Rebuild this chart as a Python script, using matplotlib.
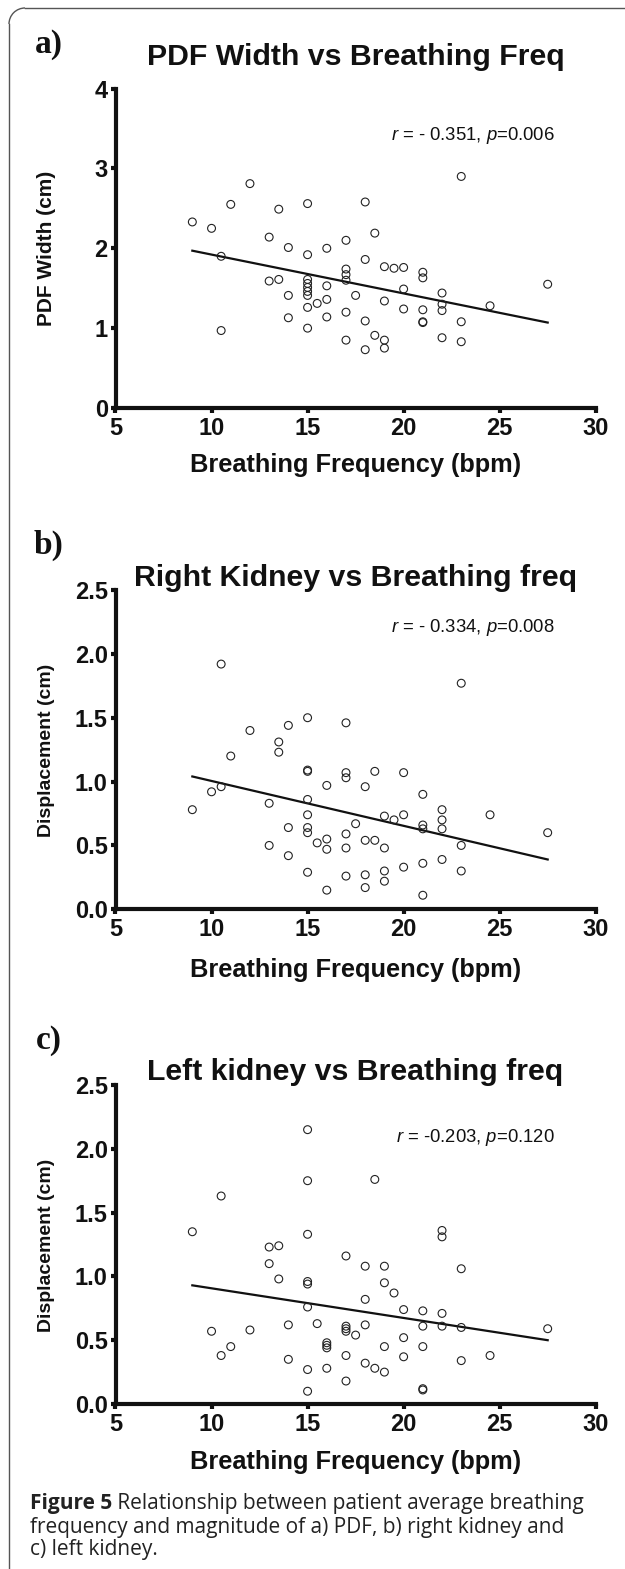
import matplotlib
matplotlib.use("Agg")
import matplotlib.pyplot as plt
from matplotlib.lines import Line2D
from matplotlib.patches import Arc

plt.rcParams['font.family'] = ['Liberation Sans', 'DejaVu Sans']
plt.rcParams['mathtext.fontset'] = 'custom'
plt.rcParams['mathtext.it'] = 'Liberation Sans:italic'
plt.rcParams['mathtext.rm'] = 'Liberation Sans'

# ---------------- data ----------------
xa = [9, 10, 10.5, 10.5, 11, 12, 13, 13, 13.5, 13.5, 14, 14, 14,
      15, 15, 15, 15, 15, 15, 15, 15, 15, 15.5, 16, 16, 16, 16,
      17, 17, 17, 17, 17, 17, 17.5, 18, 18, 18, 18, 18.5, 18.5,
      19, 19, 19, 19, 19.5, 20, 20, 20, 21, 21, 21, 21, 21,
      22, 22, 22, 22, 23, 23, 23, 24.5, 27.5]
ya = [2.33, 2.25, 1.90, 0.97, 2.55, 2.81, 2.14, 1.59, 2.49, 1.61, 2.01, 1.41, 1.13,
      2.56, 1.92, 1.61, 1.56, 1.51, 1.46, 1.41, 1.26, 1.00, 1.31, 2.00, 1.53, 1.36, 1.14,
      2.10, 1.74, 1.67, 1.60, 1.20, 0.85, 1.41, 2.58, 1.86, 1.09, 0.73, 2.19, 0.91,
      1.77, 1.34, 0.85, 0.75, 1.75, 1.76, 1.49, 1.24, 1.70, 1.63, 1.23, 1.08, 1.07,
      1.44, 1.30, 1.22, 0.88, 2.90, 1.08, 0.83, 1.28, 1.55]

xb = [9, 10, 10.5, 10.5, 11, 12, 13, 13, 13.5, 13.5, 14, 14, 14,
      15, 15, 15, 15, 15, 15, 15, 15, 15.5, 16, 16, 16, 16,
      17, 17, 17, 17, 17, 17, 17.5, 18, 18, 18, 18, 18.5, 18.5,
      19, 19, 19, 19, 19.5, 20, 20, 20, 21, 21, 21, 21, 21,
      22, 22, 22, 22, 23, 23, 23, 24.5, 27.5]
yb = [0.78, 0.92, 1.92, 0.96, 1.20, 1.40, 0.83, 0.50, 1.31, 1.23, 1.44, 0.64, 0.42,
      1.50, 1.09, 1.08, 0.86, 0.74, 0.64, 0.60, 0.29, 0.52, 0.97, 0.55, 0.47, 0.15,
      1.46, 1.07, 1.03, 0.59, 0.48, 0.26, 0.67, 0.96, 0.54, 0.27, 0.17, 1.08, 0.54,
      0.73, 0.48, 0.30, 0.22, 0.70, 1.07, 0.74, 0.33, 0.90, 0.66, 0.63, 0.36, 0.11,
      0.78, 0.70, 0.63, 0.39, 1.77, 0.50, 0.30, 0.74, 0.60]

xc = [9, 10, 10.5, 10.5, 11, 12, 13, 13, 13.5, 13.5, 14, 14,
      15, 15, 15, 15, 15, 15, 15, 15, 15.5, 16, 16, 16, 16,
      17, 17, 17, 17, 17, 17, 17.5, 18, 18, 18, 18, 18.5, 18.5,
      19, 19, 19, 19, 19.5, 20, 20, 20, 21, 21, 21, 21, 21,
      22, 22, 22, 22, 23, 23, 23, 24.5, 27.5]
yc = [1.35, 0.57, 1.63, 0.38, 0.45, 0.58, 1.23, 1.10, 1.24, 0.98, 0.62, 0.35,
      2.15, 1.75, 1.33, 0.96, 0.94, 0.76, 0.27, 0.10, 0.63, 0.48, 0.46, 0.44, 0.28,
      1.16, 0.61, 0.59, 0.57, 0.38, 0.18, 0.54, 1.08, 0.82, 0.62, 0.32, 1.76, 0.28,
      1.08, 0.95, 0.45, 0.25, 0.87, 0.74, 0.52, 0.37, 0.73, 0.61, 0.45, 0.12, 0.11,
      1.36, 1.31, 0.71, 0.61, 1.06, 0.60, 0.34, 0.38, 0.59]

fit_x = [9, 27.5]
fit_a = [1.97, 1.07]
fit_b = [1.04, 0.39]
fit_c = [0.93, 0.50]

x_ticks = [5, 10, 15, 20, 25, 30]
ya_ticks = [0, 1, 2, 3, 4]
ybc_ticks = [0.0, 0.5, 1.0, 1.5, 2.0, 2.5]

panel_letters = ['a)', 'b)', 'c)']
titles = ['PDF Width vs Breathing Freq', 'Right Kidney vs Breathing freq',
          'Left kidney vs Breathing freq']
ylabels = ['PDF Width (cm)', 'Displacement (cm)', 'Displacement (cm)']
xlabel = 'Breathing Frequency (bpm)'
stats = [r'$\it{r}$ = - 0.351, $\it{p}$=0.006',
         r'$\it{r}$ = - 0.334, $\it{p}$=0.008',
         r'$\it{r}$ = -0.203, $\it{p}$=0.120']
caption_bold = 'Figure 5'
caption_lines = [' Relationship between patient average breathing',
                 'frequency and magnitude of a) PDF, b) right kidney and',
                 'c) left kidney.']

# ---------------- layout ----------------
W, H = 625, 1569
fig = plt.figure(figsize=(W / 100, H / 100), dpi=100)

def fx(px):
    return px / W

def fy(py):
    return 1 - py / H

panels = [
    dict(x=xa, y=ya, fit=fit_a, yt=ya_ticks, ylim=(0, 4), y0=408, ytop=88.6,
         fmt='{:d}', letter_y=45, title_y=57, stat_y=136, xl_y=465, yl_y=248, yl_fs=15),
    dict(x=xb, y=yb, fit=fit_b, yt=ybc_ticks, ylim=(0, 2.5), y0=909.3, ytop=590,
         fmt='{:.1f}', letter_y=545, title_y=578, stat_y=628, xl_y=970, yl_y=750, yl_fs=14),
    dict(x=xc, y=yc, fit=fit_c, yt=ybc_ticks, ylim=(0, 2.5), y0=1404, ytop=1085,
         fmt='{:.1f}', letter_y=1040, title_y=1072, stat_y=1138, xl_y=1462, yl_y=1245, yl_fs=14),
]

left_px, right_px = 115.5, 595.7
for i, p in enumerate(panels):
    ax = fig.add_axes([fx(left_px), fy(p['y0']), fx(right_px - left_px),
                       (p['y0'] - p['ytop']) / H])
    ax.scatter(p['x'], p['y'], s=32, facecolors='none', edgecolors='#222222',
               linewidths=0.8, zorder=3, clip_on=False)
    ax.plot(fit_x, p['fit'], color='#111111', lw=1.6, zorder=2)
    ax.set_xlim(5, 30)
    ax.set_ylim(*p['ylim'])
    ax.set_xticks(x_ticks)
    ax.set_xticklabels([str(t) for t in x_ticks])
    ax.set_yticks(p['yt'])
    ax.set_yticklabels([p['fmt'].format(t) for t in p['yt']])
    for s in ['top', 'right']:
        ax.spines[s].set_visible(False)
    for s in ['left', 'bottom']:
        ax.spines[s].set_linewidth(3.0)
        ax.spines[s].set_color('#111111')
        ax.spines[s].set_capstyle('projecting')
    ax.tick_params(axis='both', direction='out', length=3.5, width=3.0,
                   color='#111111', labelsize=17, labelcolor='#111111')
    ax.tick_params(axis='x', pad=3)
    ax.tick_params(axis='y', pad=2)
    for lab in ax.get_xticklabels() + ax.get_yticklabels():
        lab.set_fontweight('bold')
    ax.patch.set_alpha(0)

    fig.text(fx(49), fy(p['letter_y']), panel_letters[i], family='Liberation Serif',
             fontweight='bold', fontsize=24, ha='center', va='center', color='#111111')
    fig.text(fx(355.5), fy(p['title_y']), titles[i], fontweight='bold',
             fontsize=21.8, ha='center', va='center', color='#111111')
    fig.text(fx(555), fy(p['stat_y']), stats[i], fontsize=13.3,
             ha='right', va='center', color='#111111')
    fig.text(fx(356), fy(p['xl_y']), xlabel, fontweight='bold', fontsize=18.3,
             ha='center', va='center', color='#111111')
    fig.text(fx(47), fy(p['yl_y']), ylabels[i], fontweight='bold', fontsize=p['yl_fs'],
             ha='center', va='center', rotation=90, color='#111111')

# border (top-left rounded)
r = 16
bc = '#555555'
fig.add_artist(Line2D([fx(9), fx(9)], [fy(8 + r), fy(H + 2)], color=bc, lw=1.0,
                      transform=fig.transFigure))
fig.add_artist(Line2D([fx(9 + r), fx(W + 2)], [fy(8), fy(8)], color=bc, lw=1.0,
                      transform=fig.transFigure))
fig.add_artist(Arc((fx(9 + r), fy(8 + r)), 2 * r / W, 2 * r / H, theta1=90,
                   theta2=180, color=bc, lw=1.0, transform=fig.transFigure))

# caption
cap_font = 'Open Sans'
cap_size = 15
cap_ys = [1503, 1527, 1550]
cap_x = 30
t0 = fig.text(fx(cap_x), fy(cap_ys[0]), caption_bold, family=cap_font,
              fontweight='bold', fontsize=cap_size, ha='left', va='center',
              color='#222222')
renderer = fig.canvas.get_renderer()
bb = t0.get_window_extent(renderer)
fig.text(bb.x1 / W, fy(cap_ys[0]), caption_lines[0], family=cap_font,
         fontsize=cap_size, ha='left', va='center', color='#222222')
for yy, line in zip(cap_ys[1:], caption_lines[1:]):
    fig.text(fx(cap_x), fy(yy), line, family=cap_font, fontsize=cap_size,
             ha='left', va='center', color='#222222')

fig.savefig('out.png', dpi=100, facecolor='white')
